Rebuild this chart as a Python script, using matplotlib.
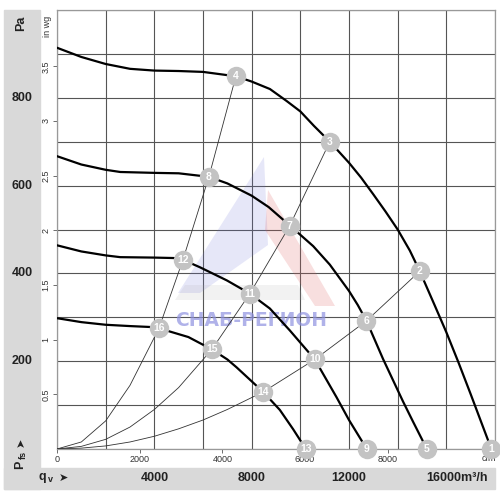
import numpy as np
from matplotlib import pyplot as plt
from matplotlib.patches import Rectangle, Polygon

plt.rcParams['font.family'] = ['Liberation Sans', 'DejaVu Sans']

# fan curves, q in m3/h, p in Pa
curve1_q = [0, 1000, 2000, 3000, 4000, 5000, 6000, 7351, 8000, 8750, 9430, 10000, 10560, 11211, 12000, 12500, 13000, 13500, 14000, 14500, 14908, 15500, 16000, 16500, 17000, 17850]
curve1_p = [914, 893, 877, 866, 862, 861, 859, 849, 837, 820, 793, 769, 736, 700, 652, 618, 580, 541, 500, 452, 405, 330, 266, 197, 125, 0]
curve2_q = [0, 1000, 2000, 2600, 4000, 5000, 6242, 7000, 8000, 8700, 9569, 10530, 11211, 12000, 12360, 12718, 13400, 14222, 14634, 15200]
curve2_p = [667, 648, 636, 631, 629, 628, 620, 605, 577, 551, 509, 462, 420, 360, 328, 292, 205, 108, 62, 0]
curve3_q = [0, 1000, 2000, 2600, 4000, 4800, 5175, 5873, 6981, 7926, 8748, 9569, 10595, 11487, 12000, 12730]
curve3_p = [464, 450, 441, 437, 436, 435, 431, 414, 384, 354, 320, 270, 204, 118, 66, 0]
curve4_q = [0, 1000, 2000, 3000, 3800, 4190, 5400, 6360, 7000, 7380, 8473, 9158, 9705, 10226]
curve4_p = [298, 289, 283, 280, 278, 275, 255, 227, 204, 186, 130, 89, 45, 0]

# system curves
sysA_q = [0, 1000, 2000, 3000, 4190, 5175, 6242, 7351]
sysA_p = [0, 16, 64, 145, 275, 431, 620, 849]
sysB_q = [0, 1000, 2000, 3000, 4000, 5000, 6366, 7926, 9569, 11211]
sysB_p = [0, 6, 22, 50, 90, 140, 227, 354, 509, 700]
sysC_q = [0, 1000, 2000, 3000, 4000, 5000, 6000, 7000, 8473, 10595, 12718, 14908]
sysC_p = [0, 2, 7, 16, 29, 46, 66, 90, 130, 204, 292, 405]

# numbered operating points
mark_q = [17850, 14908, 11211, 7351, 15200, 12718, 9569, 6242, 12730, 10595, 7926, 5175, 10226, 8473, 6366, 4190]
mark_p = [0, 405, 700, 849, 0, 292, 509, 620, 0, 204, 354, 431, 0, 130, 227, 275]
mark_lbl = [str(i) for i in range(1, 17)]

pa_lbl = [200, 400, 600, 800]
m3h_lbl = [4000, 8000, 12000]
cfm_ticks = [0, 2000, 4000, 6000, 8000]
inwg_ticks = [0.5, 1, 1.5, 2, 2.5, 3, 3.5]

W = 500.0
def fx(px):
    return px / W
def fy(py):
    return 1 - py / W

fig = plt.figure(figsize=(5, 5), dpi=100)
band = '#d9d9d9'
fig.patches.append(Rectangle((fx(4), fy(489)), fx(40) - fx(4), fy(10) - fy(489), transform=fig.transFigure, color=band, zorder=-1))
fig.patches.append(Rectangle((fx(4), fy(489)), fx(495) - fx(4), fy(468) - fy(489), transform=fig.transFigure, color=band, zorder=-1))

ax = fig.add_axes([fx(57), fy(449), fx(495) - fx(57), fy(10) - fy(449)])
ax.set_xlim(0, 18000)
ax.set_ylim(0, 1000)
ax.set_xticks(range(0, 18001, 2000))
ax.set_yticks(range(0, 1001, 100))
ax.tick_params(length=0, labelbottom=False, labelleft=False)
ax.grid(color='#555555', linewidth=0.8)
ax.set_axisbelow(True)
for s in ax.spines.values():
    s.set_color('#999999')
    s.set_linewidth(0.9)

# watermark (decoration)
def axf(px, py):
    return ((px - 57) / 438.0, (449 - py) / 439.0)
ax.add_patch(Polygon([axf(264, 157), axf(268, 245), axf(200, 293), axf(178, 293)], closed=True,
                     transform=ax.transAxes, color='#6f73d8', alpha=0.17, zorder=1.5, lw=0))
ax.add_patch(Polygon([axf(268, 190), axf(335, 306), axf(315, 306), axf(265, 230)], closed=True,
                     transform=ax.transAxes, color='#e06060', alpha=0.2, zorder=1.5, lw=0))
ax.add_patch(Polygon([axf(175, 300), axf(305, 300), axf(298, 285), axf(185, 285)], closed=True,
                     transform=ax.transAxes, color='#aaaaaa', alpha=0.15, zorder=1.5, lw=0))
ax.text(*axf(251, 320), 'СНАБ-РЕГИОН', transform=ax.transAxes, ha='center', va='center',
        fontsize=13.5, fontweight='bold', color='#8f92e0', alpha=0.7, zorder=1.6,
        family=['DejaVu Sans'])

# system curves
for q, p in [(sysA_q, sysA_p), (sysB_q, sysB_p), (sysC_q, sysC_p)]:
    ax.plot(q, p, color='#333333', linewidth=0.6, zorder=3)

# fan curves
for q, p in [(curve1_q, curve1_p), (curve2_q, curve2_p), (curve3_q, curve3_p), (curve4_q, curve4_p)]:
    ax.plot(q, p, color='black', linewidth=1.6, zorder=4, solid_capstyle='round', solid_joinstyle='round')

ax.plot(mark_q, mark_p, 'o', markersize=14, color='#c3c3c3', markeredgewidth=0, zorder=6, clip_on=False)
for q, p, t in zip(mark_q, mark_p, mark_lbl):
    ax.text(q, p, t, ha='center', va='center', color='white', fontsize=7.5, fontweight='bold', zorder=7, clip_on=False)

# cfm axis
secx = ax.secondary_xaxis('bottom', functions=(lambda q: q / 1.699, lambda c: c * 1.699))
secx.set_xticks(cfm_ticks)
secx.tick_params(length=3, width=0.6, pad=1.5, labelsize=6.5, color='#555555', labelcolor='#333333')
secx.spines['bottom'].set_visible(False)
ax.text(0.985, -0.022, 'cfm', transform=ax.transAxes, ha='center', va='center', fontsize=6.5, color='#333333')

# in wg axis
secy = ax.secondary_yaxis('left', functions=(lambda p: p / 249.09, lambda w: w * 249.09))
secy.set_yticks(inwg_ticks)
secy.set_yticklabels([('%g' % v) for v in inwg_ticks], rotation=90, va='center')
secy.tick_params(length=3, width=0.6, pad=1.5, labelsize=6.5, color='#555555', labelcolor='#333333')
secy.spines['left'].set_visible(False)
fig.text(fx(47.5), fy(26), 'in wg', rotation=90, ha='center', va='center', fontsize=6.5, color='#333333')

# labels in the gray bands
ytr = ax.get_yaxis_transform()
for v in pa_lbl:
    ax.text((22 - 57) / 438.0, v, str(v), transform=ytr, ha='center', va='center', fontsize=9, fontweight='bold', color='#222222')
xtr = ax.get_xaxis_transform()
for v in m3h_lbl:
    ax.text(v, (449 - 478) / 439.0, str(v), transform=xtr, ha='center', va='center', fontsize=9, fontweight='bold', color='#222222')
fig.text(fx(488), fy(478), '16000m³/h', ha='right', va='center', fontsize=9, fontweight='bold', color='#222222')

fig.text(fx(21), fy(23), 'Pa', rotation=90, ha='center', va='center', fontsize=9, fontweight='bold', color='#222222')
fig.text(fx(20.5), fy(465), 'P', rotation=90, ha='center', va='center', fontsize=9, fontweight='bold', color='#222222')
fig.text(fx(23), fy(455), 'fs', rotation=90, ha='center', va='center', fontsize=6.5, fontweight='bold', color='#222222')
fig.text(fx(21), fy(442), '➤', rotation=90, ha='center', va='center', fontsize=8, color='#222222', family=['DejaVu Sans'])
fig.text(fx(42), fy(477), 'q', ha='center', va='center', fontsize=9, fontweight='bold', color='#222222')
fig.text(fx(50), fy(479), 'v', ha='center', va='center', fontsize=6.5, fontweight='bold', color='#222222')
fig.text(fx(63), fy(478), '➤', ha='center', va='center', fontsize=8, color='#222222', family=['DejaVu Sans'])

plt.savefig('out.png', dpi=100)
